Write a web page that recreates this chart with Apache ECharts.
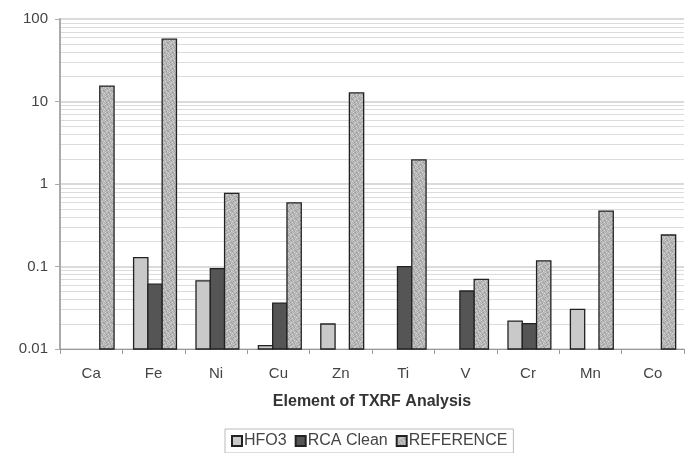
<!DOCTYPE html>
<html>
<head>
<meta charset="utf-8">
<script src="https://cdn.jsdelivr.net/npm/echarts@6/dist/echarts.min.js"></script>
<style>html,body{margin:0;padding:0;background:#fff}#c{width:685px;height:453px}</style>
</head>
<body>
<div id="c"></div>
<script>
var categories = ['Ca','Fe','Ni','Cu','Zn','Ti','V','Cr','Mn','Co'];
var seriesNames = ['HFO3','RCA Clean','REFERENCE'];
var hfo3 = [null, 0.128, 0.067, 0.011, 0.0201, null, null, 0.0218, 0.0303, null];
var rcaClean = [null, 0.061, 0.094, 0.036, null, 0.0995, 0.0505, 0.0203, null, null];
var reference = [15.4, 57, 0.77, 0.59, 12.7, 1.96, 0.07, 0.117, 0.47, 0.241];
var axisMin = 0.01, axisMax = 100;
var minorGrid = [0.02,0.03,0.04,0.05,0.06,0.07,0.08,0.09,
                 0.2,0.3,0.4,0.5,0.6,0.7,0.8,0.9,
                 2,3,4,5,6,7,8,9,
                 20,30,40,50,60,70,80,90];

var font = 'Liberation Sans, Arial, sans-serif';

// speckled fill texture for REFERENCE bars (fixed pattern)
var pat = document.createElement('canvas');
pat.width = 8; pat.height = 8;
var pc = pat.getContext('2d');
pc.fillStyle = '#b8b8b8'; pc.fillRect(0, 0, 8, 8);
var lightPix = [[1,0],[5,1],[2,3],[6,4],[0,5],[4,6],[7,7],[3,2]];
var darkPix = [[3,0],[7,2],[0,3],[5,5],[2,6],[6,7],[1,1],[4,4]];
pc.fillStyle = '#d4d4d4';
lightPix.forEach(function(p){ pc.fillRect(p[0], p[1], 1, 1); });
pc.fillStyle = '#969696';
darkPix.forEach(function(p){ pc.fillRect(p[0], p[1], 1, 1); });

var chart = echarts.init(document.getElementById('c'), null, {renderer:'canvas'});

function makeRender(slot) {
  return function(params, api) {
    var cat = api.value(0), v = api.value(1);
    if (v == null || isNaN(v)) return null;
    var band = api.size([1, 0])[0];
    var w = band * 0.229;
    var top = api.coord([cat, v]);
    var base = api.coord([cat, axisMin]);
    var x = top[0] + (slot - 1.5) * w + w * 0.1;
    return {
      type:'rect',
      shape:{x:x, y:top[1], width:w, height:base[1] - top[1]},
      style:api.style()
    };
  };
}
function toData(arr) {
  return arr.map(function(v, i){ return [i, v == null ? NaN : v]; });
}
var colors = ['#c9c9c9', '#555555', {image:pat, repeat:'repeat'}];
var arrays = [hfo3, rcaClean, reference];
var series = arrays.map(function(arr, k) {
  return {
    name:seriesNames[k], type:'custom', z:3,
    renderItem:makeRender(k),
    encode:{x:0, y:1},
    data:toData(arr),
    itemStyle:{color:colors[k], borderColor:'#222', borderWidth:1.3}
  };
});
series.push({
  name:'grid', type:'line', data:[], silent:true, z:0,
  markLine:{silent:true, symbol:'none', z:0, animation:false,
    label:{show:false}, lineStyle:{color:'#dcdcdc', type:'solid', width:1.2},
    emphasis:{disabled:true},
    data:minorGrid.map(function(v){return {yAxis:v};})}
});

chart.setOption({
  animation:false,
  backgroundColor:'#fff',
  grid:{left:60, right:1, top:19, bottom:104, show:false},
  legend:{
    bottom:0, left:225, padding:[4,6,4,6],
    borderColor:'#bbb', borderWidth:1,
    itemWidth:10, itemHeight:10, itemGap:8,
    icon:'rect',
    textStyle:{fontFamily:font, fontSize:16, color:'#444', padding:[0,0,0,-3]},
    data:seriesNames
  },
  xAxis:{
    type:'category', data:categories,
    name:'Element of TXRF Analysis', nameLocation:'middle', nameGap:45,
    nameTextStyle:{fontFamily:font, fontSize:16, fontWeight:'bold', color:'#333'},
    axisLine:{lineStyle:{color:'#999', width:1}},
    axisTick:{show:true, length:5, lineStyle:{color:'#999'}},
    axisLabel:{fontFamily:font, fontSize:15, color:'#444', margin:17},
    splitLine:{show:false}
  },
  yAxis:{
    type:'log', logBase:10, min:axisMin, max:axisMax,
    axisLine:{show:true, lineStyle:{color:'#aaa', width:2}},
    axisTick:{show:true, length:5, lineStyle:{color:'#aaa'}},
    axisLabel:{fontFamily:font, fontSize:15, color:'#444', margin:12,
      formatter:function(v){return String(+v.toPrecision(3));}},
    splitLine:{show:true, lineStyle:{color:'#cfcfcf', width:1.5}}
  },
  series:series
});
</script>
</body>
</html>
